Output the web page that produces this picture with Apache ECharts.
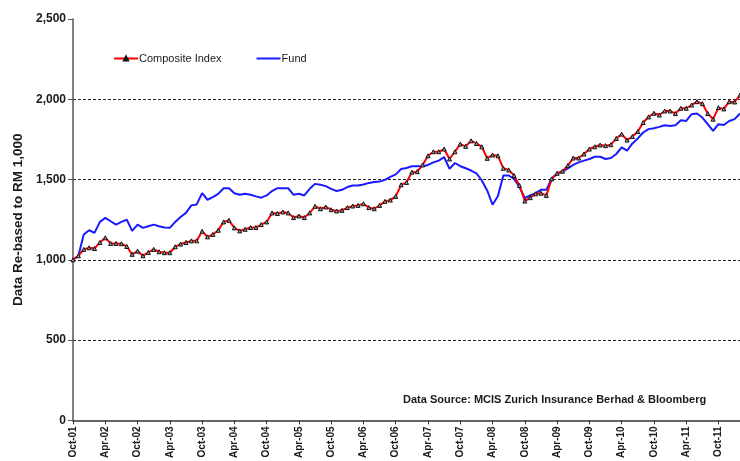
<!DOCTYPE html>
<html>
<head>
<meta charset="utf-8">
<script src="https://cdn.jsdelivr.net/npm/echarts@6/dist/echarts.min.js"></script>
<style>
  html, body { margin: 0; padding: 0; background: #fff; }
  #chart { width: 740px; height: 461px; }
</style>
</head>
<body>
<div id="chart"></div>
<script>
  // month labels, Oct-01 .. Feb-12
  var monthNames = ['Jan', 'Feb', 'Mar', 'Apr', 'May', 'Jun', 'Jul', 'Aug', 'Sep', 'Oct', 'Nov', 'Dec'];
  var months = [];
  for (var k = 0; k < 125; k++) {
    var m = (9 + k) % 12;
    var yr = 1 + Math.floor((9 + k) / 12);
    months.push(monthNames[m] + '-' + (yr < 10 ? '0' + yr : '' + yr));
  }

  var yTicks = [0, 500, 1000, 1500, 2000, 2500];

  // values
  var compositeIndex = [
    1000, 1025, 1065, 1075, 1070, 1108, 1137, 1102, 1102, 1100,
    1083, 1034, 1054, 1025, 1046, 1065, 1050, 1044, 1044, 1081,
    1098, 1108, 1118, 1118, 1178, 1143, 1158, 1184, 1236, 1246,
    1199, 1180, 1190, 1201, 1201, 1219, 1236, 1292, 1288, 1298,
    1292, 1263, 1273, 1263, 1292, 1333, 1318, 1329, 1312, 1304,
    1308, 1325, 1335, 1339, 1349, 1325, 1318, 1339, 1364, 1372,
    1395, 1467, 1482, 1546, 1549, 1591, 1648, 1673, 1673, 1690,
    1628, 1673, 1721, 1707, 1741, 1725, 1704, 1632, 1653, 1648,
    1570, 1560, 1525, 1463, 1366, 1387, 1411, 1415, 1401, 1504,
    1539, 1552, 1587, 1634, 1634, 1659, 1690, 1704, 1715, 1711,
    1717, 1756, 1783, 1746, 1768, 1799, 1855, 1890, 1913, 1902,
    1927, 1927, 1911, 1944, 1944, 1964, 1985, 1973, 1911, 1876,
    1948, 1940, 1985, 1983, 2026
  ];

  var fund = [
    1000, 1025, 1158, 1184, 1168, 1236, 1261, 1240, 1219, 1236,
    1250, 1180, 1219, 1199, 1209, 1219, 1209, 1201, 1199, 1236,
    1267, 1292, 1339, 1345, 1415, 1374, 1391, 1411, 1446, 1446,
    1415, 1405, 1411, 1405, 1395, 1387, 1401, 1428, 1446, 1446,
    1446, 1405, 1411, 1401, 1442, 1473, 1467, 1459, 1442, 1428,
    1436, 1453, 1463, 1463, 1469, 1479, 1484, 1488, 1498, 1516,
    1532, 1566, 1572, 1583, 1583, 1583, 1591, 1607, 1618, 1639,
    1566, 1603, 1583, 1570, 1556, 1539, 1494, 1432, 1343, 1397,
    1525, 1525, 1504, 1453, 1385, 1401, 1415, 1436, 1436, 1508,
    1535, 1549, 1570, 1591, 1607, 1618, 1628, 1642, 1642, 1628,
    1634, 1659, 1700, 1680, 1725, 1756, 1793, 1814, 1820, 1828,
    1838, 1834, 1838, 1869, 1865, 1907, 1911, 1886, 1845, 1803,
    1845, 1840, 1865, 1876, 1911
  ];

  var myChart = echarts.init(document.getElementById('chart'));

  var option = {
    animation: false,
    textStyle: { fontFamily: 'Liberation Sans, Arial, sans-serif' },
    title: {
      text: 'Data Source: MCIS Zurich Insurance Berhad & Bloomberg',
      left: 398,
      top: 389,
      textStyle: { fontSize: 11, fontWeight: 'bold', color: '#1a1a1a', fontFamily: 'Liberation Sans, Arial, sans-serif' }
    },
    legend: {
      left: 108,
      top: 48,
      itemWidth: 24,
      itemHeight: 5,
      itemGap: 34,
      textStyle: { fontSize: 11, color: '#1a1a1a', padding: [0, 0, 0, -4] },
      data: [
        { name: 'Composite Index' },
        { name: 'Fund', itemStyle: { opacity: 0 } }
      ]
    },
    grid: { left: 73, right: 0, top: 19, bottom: 38, containLabel: false },
    xAxis: {
      type: 'category',
      data: months,
      boundaryGap: false,
      axisLine: { lineStyle: { color: '#333', width: 1.5 } },
      axisTick: { interval: 5, length: 4, lineStyle: { color: '#333' } },
      axisLabel: {
        interval: 5,
        rotate: 90,
        fontSize: 10,
        fontWeight: 'bold',
        color: '#1a1a1a',
        margin: 6
      },
      splitLine: { show: false }
    },
    yAxis: {
      type: 'value',
      min: yTicks[0],
      max: yTicks[yTicks.length - 1],
      interval: 500,
      name: 'Data Re-based to RM 1,000',
      nameLocation: 'middle',
      nameGap: 48,
      nameTextStyle: { fontSize: 13.5, fontWeight: 'bold', color: '#1a1a1a' },
      axisLine: { show: true, lineStyle: { color: '#555', width: 1.5 } },
      axisTick: { show: true, length: 5, lineStyle: { color: '#555' } },
      axisLabel: {
        fontSize: 12,
        fontWeight: 'bold',
        color: '#1a1a1a',
        margin: 7,
        formatter: function (v) { return v.toLocaleString('en-US'); }
      },
      splitLine: {
        show: true,
        showMinLine: false,
        showMaxLine: false,
        lineStyle: { color: '#222', type: [3, 2], width: 1 }
      }
    },
    series: [
      {
        name: 'Fund',
        type: 'line',
        data: fund,
        showSymbol: false,
        symbol: 'none',
        itemStyle: { color: '#0000ff' },
        lineStyle: { color: '#1a1aff', width: 2 },
        z: 2
      },
      {
        name: 'Composite Index',
        type: 'line',
        data: compositeIndex,
        symbol: 'triangle',
        symbolSize: 4,
        showAllSymbol: true,
        itemStyle: { color: '#999', borderColor: '#111', borderWidth: 1 },
        lineStyle: { color: '#ff0000', width: 2 },
        z: 3
      }
    ]
  };

  myChart.setOption(option);
</script>
</body>
</html>
